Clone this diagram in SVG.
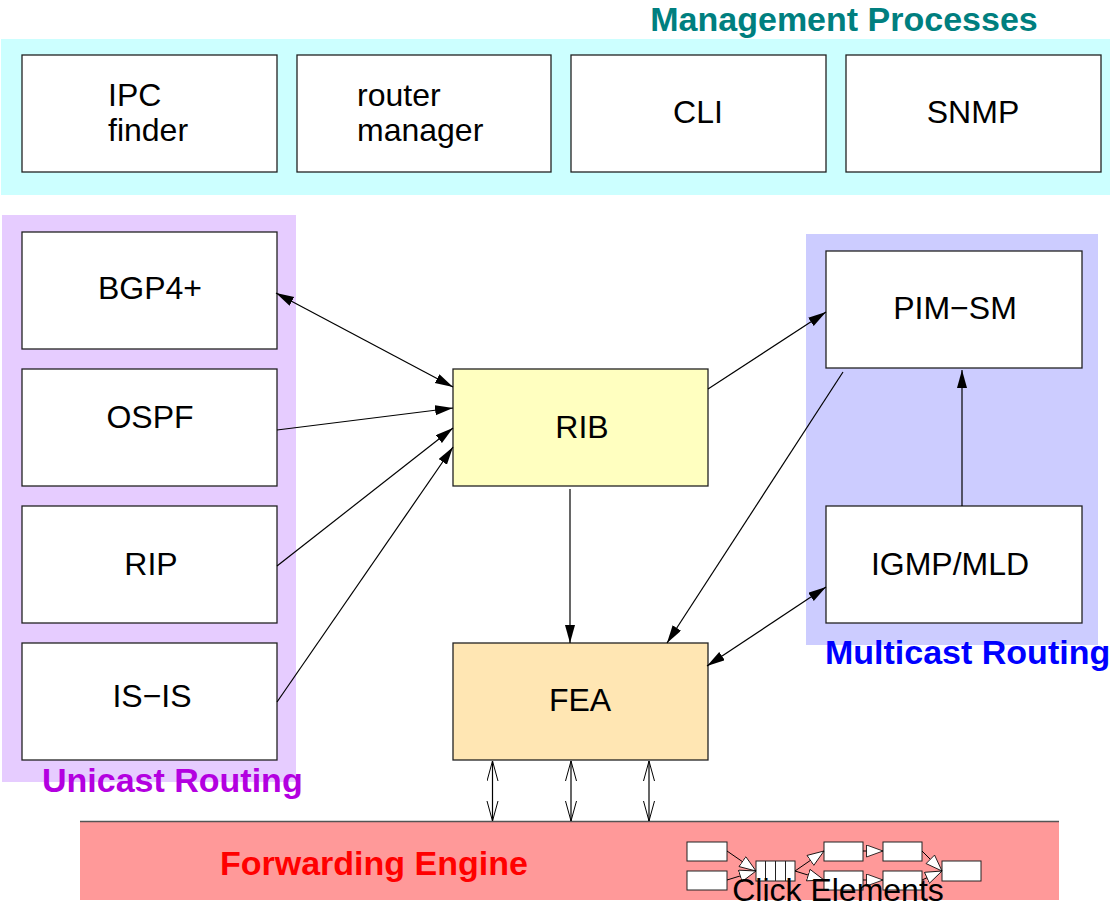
<svg xmlns="http://www.w3.org/2000/svg" width="1110" height="909" viewBox="0 0 1110 909">
<style>
  .node { fill: #ffffff; stroke: #222; stroke-width: 1.3; }
  .lbl { font-family: "Liberation Sans", Arial, sans-serif; font-size: 32px; fill: #000; }
  .mid { text-anchor: middle; }
  .title { font-family: "Liberation Sans", Arial, sans-serif; font-size: 34px; font-weight: bold; }
  .conn { stroke: #000; stroke-width: 1.2; fill: none; }
  .small { fill: #fff; stroke: #222; stroke-width: 1; }
</style>
<defs>
  <marker id="arr" markerUnits="userSpaceOnUse" markerWidth="20" markerHeight="12" refX="18" refY="5" orient="auto-start-reverse">
    <path d="M0,0 L18,5 L0,10 z" fill="#000"/>
  </marker>
  <marker id="vee" markerUnits="userSpaceOnUse" markerWidth="22" markerHeight="14" refX="20" refY="6" orient="auto-start-reverse">
    <path d="M0,0.5 L20,6 L0,11.5" fill="none" stroke="#000" stroke-width="1"/>
  </marker>
  <marker id="tri" markerUnits="userSpaceOnUse" markerWidth="20" markerHeight="14" refX="17" refY="6.5" orient="auto">
    <path d="M0.5,0.5 L17,6.5 L0.5,12.5 z" fill="#fff" stroke="#000" stroke-width="0.8"/>
  </marker>
</defs>

<!-- panels -->
<g id="management-panel">
  <rect x="1" y="39" width="1109" height="156" fill="#ccffff"/>
  <text class="title" x="844" y="31" text-anchor="middle" fill="#007f7f">Management Processes</text>
</g>
<g id="unicast-panel">
  <rect x="2" y="215" width="294" height="567" fill="#e6ccff"/>
  <text class="title" x="42" y="792" fill="#b300e0">Unicast Routing</text>
</g>
<g id="multicast-panel">
  <rect x="806" y="234" width="292" height="411" fill="#ccccff"/>
  <text class="title" x="825" y="664" fill="#0000ff">Multicast Routing</text>
</g>

<!-- management nodes -->
<g id="ipc-finder">
  <rect class="node" x="22" y="55" width="255" height="117"/>
  <text class="lbl" x="108" y="106">IPC</text>
  <text class="lbl" x="108" y="141">finder</text>
</g>
<g id="router-manager">
  <rect class="node" x="297" y="55" width="254" height="117"/>
  <text class="lbl" x="357" y="106">router</text>
  <text class="lbl" x="357" y="141">manager</text>
</g>
<g id="cli">
  <rect class="node" x="571" y="55" width="255" height="117"/>
  <text class="lbl mid" x="698" y="123">CLI</text>
</g>
<g id="snmp">
  <rect class="node" x="846" y="55" width="255" height="117"/>
  <text class="lbl mid" x="973" y="123">SNMP</text>
</g>

<!-- unicast nodes -->
<g id="bgp">
  <rect class="node" x="22" y="232" width="255" height="117"/>
  <text class="lbl mid" x="150" y="299">BGP4+</text>
</g>
<g id="ospf">
  <rect class="node" x="22" y="369" width="255" height="117"/>
  <text class="lbl mid" x="150" y="428">OSPF</text>
</g>
<g id="rip">
  <rect class="node" x="22" y="506" width="255" height="117"/>
  <text class="lbl mid" x="151" y="575">RIP</text>
</g>
<g id="isis">
  <rect class="node" x="22" y="643" width="255" height="117"/>
  <text class="lbl mid" x="152" y="707">IS−IS</text>
</g>

<!-- core nodes -->
<g id="rib">
  <rect class="node" x="453" y="369" width="255" height="117" style="fill:#ffffc0"/>
  <text class="lbl mid" x="582" y="438">RIB</text>
</g>
<g id="fea">
  <rect class="node" x="453" y="643" width="255" height="117" style="fill:#ffe6b3"/>
  <text class="lbl mid" x="580" y="711">FEA</text>
</g>

<!-- multicast nodes -->
<g id="pim-sm">
  <rect class="node" x="826" y="251" width="256" height="117"/>
  <text class="lbl mid" x="955" y="319">PIM−SM</text>
</g>
<g id="igmp-mld">
  <rect class="node" x="826" y="506" width="256" height="117"/>
  <text class="lbl mid" x="950" y="575">IGMP/MLD</text>
</g>

<!-- forwarding engine -->
<g id="forwarding-engine">
  <rect x="80" y="821" width="979" height="79" fill="#ff9999"/>
  <line x1="80" y1="821.5" x2="1059" y2="821.5" stroke="#555" stroke-width="1.3"/>
  <text class="title" x="220" y="875" fill="#ff0000">Forwarding Engine</text>
</g>

<!-- click elements -->
<g id="click-elements">
  <rect class="small" x="687" y="842" width="40" height="19"/>
  <rect class="small" x="687" y="871" width="40" height="19"/>
  <rect class="small" x="756" y="861" width="39" height="20"/>
  <line x1="765.5" y1="861" x2="765.5" y2="881" stroke="#222" stroke-width="1"/>
  <line x1="775.5" y1="861" x2="775.5" y2="881" stroke="#222" stroke-width="1"/>
  <line x1="785.5" y1="861" x2="785.5" y2="881" stroke="#222" stroke-width="1"/>
  <rect class="small" x="824" y="842" width="39" height="19"/>
  <rect class="small" x="824" y="871" width="39" height="19"/>
  <rect class="small" x="883" y="842" width="39" height="19"/>
  <rect class="small" x="883" y="871" width="39" height="19"/>
  <rect class="small" x="942" y="861" width="39" height="20"/>
  <g stroke="#000" stroke-width="1" fill="none">
    <line x1="727" y1="851" x2="756" y2="871" marker-end="url(#tri)"/>
    <line x1="727" y1="880" x2="756" y2="871" marker-end="url(#tri)"/>
    <line x1="795" y1="871" x2="824" y2="851" marker-end="url(#tri)"/>
    <line x1="795" y1="871" x2="824" y2="880" marker-end="url(#tri)"/>
    <line x1="863" y1="851" x2="883" y2="851" marker-end="url(#tri)"/>
    <line x1="863" y1="880" x2="883" y2="880" marker-end="url(#tri)"/>
    <line x1="922" y1="851" x2="942" y2="871" marker-end="url(#tri)"/>
    <line x1="922" y1="880" x2="942" y2="871" marker-end="url(#tri)"/>
  </g>
  <text class="lbl mid" x="838" y="901" style="font-size:32px">Click Elements</text>
</g>

<!-- connectors -->
<g id="connectors">
  <line class="conn" x1="276" y1="293" x2="453" y2="387" marker-start="url(#arr)" marker-end="url(#arr)"/>
  <line class="conn" x1="277" y1="430" x2="453" y2="408" marker-end="url(#arr)"/>
  <line class="conn" x1="277" y1="566" x2="453" y2="428" marker-end="url(#arr)"/>
  <line class="conn" x1="277" y1="702" x2="453" y2="447" marker-end="url(#arr)"/>
  <line class="conn" x1="708" y1="389" x2="826" y2="312" marker-end="url(#arr)"/>
  <line class="conn" x1="843" y1="372" x2="667" y2="643" marker-end="url(#arr)"/>
  <line class="conn" x1="570" y1="489" x2="570" y2="643" marker-end="url(#arr)"/>
  <line class="conn" x1="962" y1="506" x2="962" y2="370" marker-end="url(#arr)"/>
  <line class="conn" x1="826" y1="587" x2="707" y2="666" marker-start="url(#arr)" marker-end="url(#arr)"/>
  <line class="conn" x1="492.5" y1="761" x2="492.5" y2="821" marker-start="url(#vee)" marker-end="url(#vee)"/>
  <line class="conn" x1="571" y1="761" x2="571" y2="821" marker-start="url(#vee)" marker-end="url(#vee)"/>
  <line class="conn" x1="649" y1="761" x2="649" y2="821" marker-start="url(#vee)" marker-end="url(#vee)"/>
</g>
</svg>
